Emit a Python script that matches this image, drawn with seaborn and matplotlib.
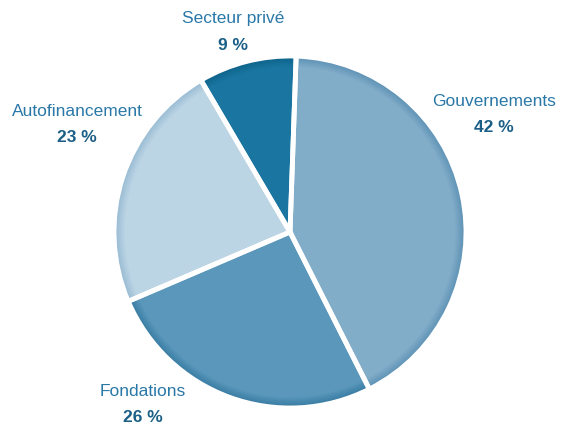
import matplotlib
matplotlib.use("Agg")
import matplotlib.pyplot as plt
import seaborn as sns
from matplotlib.colors import to_rgb

# financing sources, clockwise from the top
labels = ["Gouvernements", "Fondations", "Autofinancement", "Secteur privé"]
shares = [42, 26, 23, 9]
pct_labels = ["42 %", "26 %", "23 %", "9 %"]
colors = ["#82adc9", "#5a97bb", "#bcd5e5", "#1a76a0"]
edge_colors = ["#5a8fb2", "#34789f", "#94b8d1", "#0c6189"]

sns.set_theme(style="white")
plt.rcParams["font.family"] = ["Liberation Sans Narrow", "Liberation Sans", "DejaVu Sans"]

fig = plt.figure(figsize=(5.62, 4.26), dpi=100)
ax = fig.add_axes([0, 0, 1, 1])

cx, cy, r = 290, 194, 176


def mix(c1, c2, t):
    a, b = to_rgb(c1), to_rgb(c2)
    return tuple(a[i] * (1 - t) + b[i] * t for i in range(3))


# soft bevel: darker rim fading into the face colour
n = 8
for k in range(n + 1):
    t = k / n
    cols = [mix(e, c, t) for e, c in zip(edge_colors, colors)]
    ax.pie(shares, colors=cols, startangle=88, counterclock=False,
           center=(cx, cy), radius=r * (1 - 0.06 * t), frame=True,
           wedgeprops=dict(linewidth=0))
# white separators
ax.pie(shares, colors=colors, startangle=88, counterclock=False,
       center=(cx, cy), radius=r, frame=True,
       wedgeprops=dict(fill=False, edgecolor="white", linewidth=3.5))

ax.set_xlim(0, 562)
ax.set_ylim(0, 426)
ax.set_aspect("equal")
ax.axis("off")

label_pos = {
    "Gouvernements": (494, 101),
    "Fondations": (143, 391),
    "Autofinancement": (77, 111),
    "Secteur privé": (233, 18),
}
for name, pct in zip(labels, pct_labels):
    x, y = label_pos[name]
    ax.text(x, 426 - y, name, ha="center", va="center", fontsize=12.5,
            color="#2a78a8")
    ax.text(x, 426 - y - 27, pct, ha="center", va="center", fontsize=12.5,
            fontweight="bold", color="#1b5f87")

fig.savefig("out.png", dpi=100)
